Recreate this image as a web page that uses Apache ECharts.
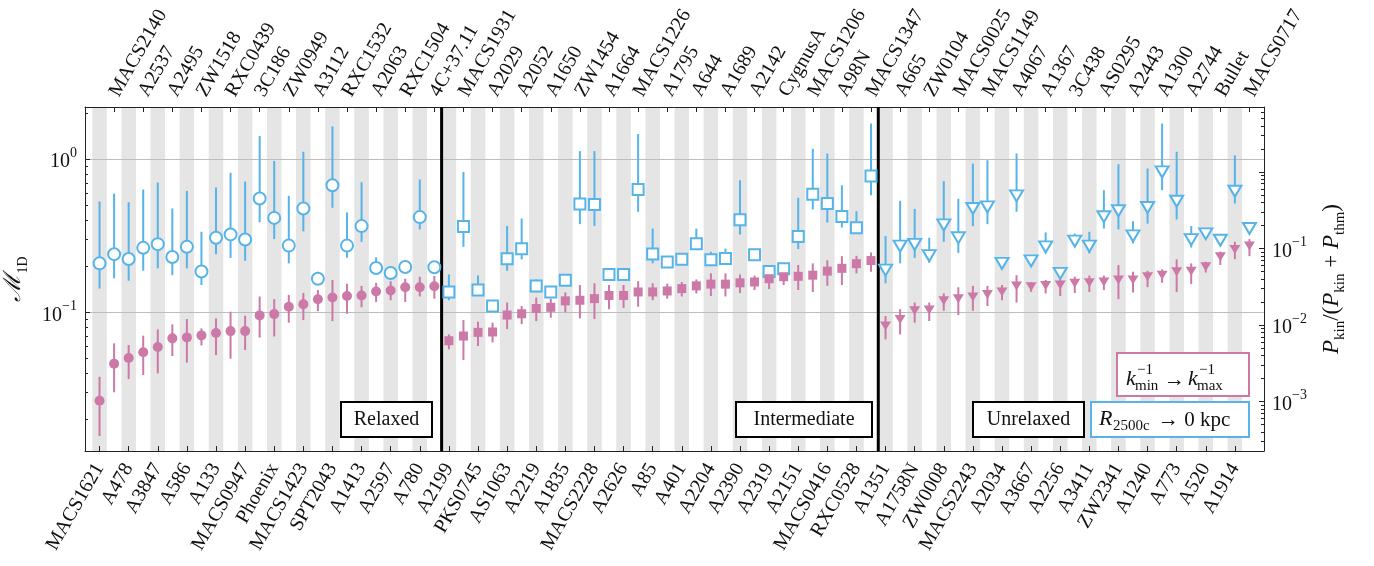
<!DOCTYPE html>
<html>
<head>
<meta charset="utf-8">
<script src="https://cdn.jsdelivr.net/npm/echarts@6.0.0/dist/echarts.min.js"></script>
<style>
  html, body { margin: 0; padding: 0; background: #fff; }
  #chart { width: 1374px; height: 566px; }
</style>
</head>
<body>
<div id="chart"></div>
<script>
// cluster names, left to right (bottom labels on even positions, top labels on odd)
const clusters = [
  'MACS1621', 'MACS2140', 'A478', 'A2537', 'A3847', 'A2495', 'A586', 'ZW1518', 'A133', 'RXC0439',
  'MACS0947', '3C186', 'Phoenix', 'ZW0949', 'MACS1423', 'A3112', 'SPT2043', 'RXC1532', 'A1413', 'A2063',
  'A2597', 'RXC1504', 'A780', '4C+37.11', 'A2199', 'MACS1931', 'PKS0745', 'A2029', 'AS1063', 'A2052',
  'A2219', 'A1650', 'A1835', 'ZW1454', 'MACS2228', 'A1664', 'A2626', 'MACS1226', 'A85', 'A1795',
  'A401', 'A644', 'A2204', 'A1689', 'A2390', 'A2142', 'A2319', 'CygnusA', 'A2151', 'MACS1206',
  'MACS0416', 'A98N', 'RXC0528', 'MACS1347', 'A1351', 'A665', 'A1758N', 'ZW0104', 'ZW0008', 'MACS0025',
  'MACS2243', 'MACS1149', 'A2034', 'A4067', 'A3667', 'A1367', 'A2256', '3C438', 'A3411', 'AS0295',
  'ZW2341', 'A2443', 'A1240', 'A1300', 'A773', 'A2744', 'A520', 'Bullet', 'A1914', 'MACS0717'
];

// dynamical state groups: number of clusters in each, in order
const groupNames = ['Relaxed', 'Intermediate', 'Unrelaxed'];
const groupSizes = [24, 30, 26];

// R2500c -> 0 kpc (blue, open markers)
const machR = [
  0.209, 0.240, 0.223, 0.264, 0.279, 0.230, 0.268, 0.185, 0.307, 0.323, 0.299, 0.554, 0.414, 0.273, 0.477, 0.166,
  0.676, 0.273, 0.366, 0.195, 0.181, 0.198, 0.419, 0.197,
  0.136, 0.364, 0.140, 0.110, 0.224, 0.260, 0.149, 0.136, 0.162, 0.511, 0.506, 0.177, 0.177, 0.634, 0.241,
  0.213, 0.222, 0.281, 0.221, 0.225, 0.402, 0.238, 0.185, 0.193, 0.313, 0.591, 0.514, 0.423, 0.357, 0.778,
  0.189, 0.271, 0.278, 0.235, 0.373, 0.307, 0.477, 0.489, 0.209, 0.577, 0.217, 0.268, 0.180, 0.292, 0.271,
  0.421, 0.461, 0.316, 0.484, 0.826, 0.532, 0.299, 0.326, 0.296, 0.618, 0.353
];
const machRLo = [
  0.143, 0.167, 0.161, 0.187, 0.194, 0.175, 0.194, 0.151, 0.240, 0.227, 0.217, 0.388, 0.301, 0.209, 0.338, 0.155,
  0.482, 0.227, 0.289, 0.180, 0.167, 0.184, 0.348, 0.184,
  0.120, 0.268, 0.130, 0.104, 0.187, 0.222, 0.138, 0.127, 0.151, 0.377, 0.367, 0.167, 0.167, 0.454, 0.209,
  0.201, 0.209, 0.255, 0.204, 0.209, 0.323, 0.219, 0.171, 0.180, 0.259, 0.470, 0.386, 0.358, 0.327, 0.582,
  0.155, 0.209, 0.227, 0.211, 0.289, 0.245, 0.366, 0.377, 0.209, 0.454, 0.217, 0.243, 0.180, 0.268, 0.243,
  0.353, 0.348, 0.282, 0.380, 0.628, 0.404, 0.265, 0.301, 0.271, 0.514, 0.327
];
const machRHi = [
  0.530, 0.597, 0.524, 0.634, 0.705, 0.477, 0.621, 0.336, 0.653, 0.815, 0.715, 1.42, 0.975, 0.577, 1.12, 0.184,
  1.64, 0.449, 0.708, 0.229, 0.194, 0.219, 0.737, 0.209,
  0.177, 0.826, 0.174, 0.110, 0.367, 0.410, 0.164, 0.143, 0.173, 1.13, 1.13, 0.189, 0.189, 1.46, 0.353,
  0.225, 0.237, 0.353, 0.249, 0.261, 0.730, 0.255, 0.199, 0.204, 0.560, 1.17, 1.09, 0.676, 0.458, 1.71,
  0.315, 0.535, 0.474, 0.307, 0.719, 0.551, 0.937, 0.985, 0.209, 1.09, 0.217, 0.333, 0.180, 0.327, 0.336,
  0.628, 0.928, 0.394, 0.869, 1.71, 1.12, 0.366, 0.344, 0.315, 1.06, 0.377
];

// k_min^-1 -> k_max^-1 (pink, filled markers)
const machK = [
  0.0265, 0.0463, 0.0504, 0.0549, 0.0594, 0.0677, 0.0687, 0.0708, 0.0733, 0.0755, 0.0755, 0.0956, 0.0975, 0.109,
  0.113, 0.122, 0.125, 0.128, 0.129, 0.137, 0.139, 0.146, 0.146, 0.148,
  0.0653, 0.0701, 0.0741, 0.0745, 0.0961, 0.098, 0.106, 0.108, 0.119, 0.120, 0.123, 0.129, 0.129, 0.136, 0.136,
  0.138, 0.143, 0.149, 0.153, 0.153, 0.156, 0.158, 0.166, 0.171, 0.172, 0.175, 0.186, 0.194, 0.208, 0.218,
  0.0815, 0.090, 0.1025, 0.1036, 0.119, 0.123, 0.126, 0.131, 0.136, 0.149, 0.147, 0.150, 0.151, 0.155, 0.156,
  0.158, 0.163, 0.163, 0.171, 0.175, 0.184, 0.186, 0.199, 0.231, 0.257, 0.271
];
const machKLo = [
  0.0156, 0.0301, 0.0367, 0.0390, 0.0400, 0.0519, 0.0470, 0.0609, 0.0527, 0.0499, 0.0568, 0.0684, 0.0697, 0.0857,
  0.0891, 0.102, 0.0878, 0.098, 0.108, 0.117, 0.120, 0.117, 0.127, 0.123,
  0.0574, 0.0489, 0.0603, 0.0637, 0.0778, 0.0839, 0.0878, 0.0923, 0.100, 0.0914, 0.0905, 0.105, 0.107, 0.109, 0.120,
  0.123, 0.127, 0.133, 0.128, 0.127, 0.134, 0.140, 0.142, 0.151, 0.140, 0.136, 0.149, 0.151, 0.180, 0.184,
  0.0667, 0.0719, 0.0857, 0.0878, 0.1025, 0.0961, 0.1025, 0.110, 0.120, 0.116, 0.136, 0.133, 0.128, 0.134, 0.136,
  0.140, 0.122, 0.135, 0.146, 0.156, 0.136, 0.153, 0.182, 0.204, 0.223, 0.233
];
const machKHi = [
  0.0380, 0.0628, 0.0612, 0.0705, 0.0775, 0.0835, 0.0905, 0.0786, 0.0914, 0.101, 0.0951, 0.127, 0.122, 0.130,
  0.134, 0.140, 0.163, 0.154, 0.149, 0.156, 0.160, 0.166, 0.171, 0.173,
  0.0719, 0.0891, 0.0869, 0.0857, 0.116, 0.110, 0.125, 0.123, 0.135, 0.151, 0.155, 0.151, 0.151, 0.160, 0.155,
  0.154, 0.158, 0.164, 0.180, 0.180, 0.177, 0.174, 0.185, 0.187, 0.204, 0.209, 0.219, 0.233, 0.234, 0.246,
  0.0947, 0.105, 0.116, 0.116, 0.133, 0.146, 0.149, 0.149, 0.151, 0.175, 0.158, 0.163, 0.171, 0.171, 0.174,
  0.174, 0.204, 0.184, 0.187, 0.191, 0.222, 0.209, 0.214, 0.249, 0.289, 0.301
];

// axis ranges (left: M_1D, right: P_kin / (P_kin + P_thm))
const leftRange = [0.01245, 2.193];
const rightRange = [2.265e-4, 7.03];
const rightLabelPowers = [-1, -2, -3];

const FONT = '"Liberation Serif", "DejaVu Serif", serif';
const BLUE = '#56B4E9';
const PINK = '#CC79A7';
const TRI_DOWN = 'path://M0,0L20,0L10,17.3Z';

const chart = echarts.init(document.getElementById('chart'));

const n = clusters.length;
const cats = [''].concat(clusters, ['']);   // one empty slot on each side as padding
const groupOf = [];
groupSizes.forEach((s, g) => { for (let k = 0; k < s; k++) groupOf.push(g); });

const isBottom = i => i >= 1 && i <= n && (i - 1) % 2 === 0;
const isTop = i => i >= 1 && i <= n && (i - 1) % 2 === 1;

function powLabel(v, allowed) {
  const l = Math.log10(v);
  const r = Math.round(l);
  if (Math.abs(l - r) > 1e-6) return '';
  if (allowed && allowed.indexOf(r) < 0) return '';
  return '{b|10}{s|' + (r < 0 ? '\u2212' + (-r) : r) + '}';
}
const powRich = {
  b: { fontFamily: FONT, fontSize: 20, color: '#111', lineHeight: 26, verticalAlign: 'bottom' },
  s: { fontFamily: FONT, fontSize: 14, color: '#111', lineHeight: 26, verticalAlign: 'top', padding: [0, 0, 10, 0] }
};

function errBars(lo, hi, color) {
  return {
    type: 'custom',
    silent: true,
    z: 3,
    data: clusters.map((_, i) => [i + 1, lo[i], hi[i]]),
    encode: { x: 0, y: [1, 2] },
    renderItem(params, api) {
      const a = api.coord([api.value(0), api.value(1)]);
      const b = api.coord([api.value(0), api.value(2)]);
      return {
        type: 'line',
        shape: { x1: a[0], y1: a[1], x2: b[0], y2: b[1] },
        style: { stroke: color, lineWidth: 2 }
      };
    }
  };
}

const blueSym = ['circle', 'rect', TRI_DOWN];
const blueSize = [12, 11, [13, 11]];
const pinkSym = ['circle', 'rect', TRI_DOWN];
const pinkSize = [10, 9, [11, 9]];

// boundaries between the groups
const bounds = [];
let acc = 0;
groupSizes.slice(0, -1).forEach(s => { acc += s; bounds.push(acc); });

function txt(x, y, text, size, extra) {
  return {
    type: 'text', x: x, y: y, z: 20,
    style: Object.assign({
      text: text, fontFamily: FONT, fontSize: size, fill: '#111',
      textAlign: 'left', textVerticalAlign: 'middle'
    }, extra || {})
  };
}
function box(x, y, w, h, color) {
  return {
    type: 'rect', z: 19,
    shape: { x: x, y: y, width: w, height: h },
    style: { fill: '#fff', stroke: color, lineWidth: 2 }
  };
}

const graphic = [
  box(341, 402, 91, 35, '#000'),
  txt(386.5, 420, groupNames[0], 20, { textAlign: 'center' }),
  box(736, 402, 136, 35, '#000'),
  txt(804, 420, groupNames[1], 20, { textAlign: 'center' }),
  box(973, 402, 111, 35, '#000'),
  txt(1028.5, 420, groupNames[2], 20, { textAlign: 'center' }),
  box(1091, 402, 158, 35, BLUE),
  txt(1099, 419, 'R', 22, { fontStyle: 'italic' }),
  txt(1113, 426, '2500c', 15),
  txt(1158, 420, '\u2192 0 kpc', 21),
  box(1117, 353, 132, 43, PINK),
  txt(1126, 379, 'k', 22, { fontStyle: 'italic' }),
  txt(1137, 370, '\u22121', 15),
  txt(1135, 386, 'min', 15),
  txt(1164, 380, '\u2192', 21),
  txt(1188, 379, 'k', 22, { fontStyle: 'italic' }),
  txt(1199, 370, '\u22121', 15),
  txt(1197, 386, 'max', 15)
];

const xBase = {
  type: 'category',
  data: cats,
  boundaryGap: false,
  axisLine: { show: true, lineStyle: { color: '#222', width: 1 } },
  splitLine: { show: false }
};

const option = {
  animation: false,
  backgroundColor: '#fff',
  grid: { left: 85, right: 110, top: 107, bottom: 115, containLabel: false, outerBoundsMode: 'none' },
  xAxis: [
    Object.assign({}, xBase, {
      position: 'bottom',
      axisTick: { show: true, inside: true, length: 5, interval: isBottom, lineStyle: { color: '#222' } },
      axisLabel: { interval: isBottom, rotate: 60, margin: 14, fontFamily: FONT, fontSize: 20, color: '#111' }
    }),
    Object.assign({}, xBase, {
      position: 'top',
      axisTick: { show: true, inside: true, length: 5, interval: isTop, lineStyle: { color: '#222' } },
      axisLabel: { interval: isTop, rotate: -60, margin: 12, fontFamily: FONT, fontSize: 20, color: '#111' }
    })
  ],
  yAxis: [
    {
      type: 'log', logBase: 10, min: leftRange[0], max: leftRange[1], position: 'left',
      axisLine: { show: true, lineStyle: { color: '#222' } },
      axisTick: { show: true, inside: true, length: 5, lineStyle: { color: '#222' } },
      minorTick: { show: true, splitNumber: 9, length: 3, lineStyle: { color: '#222' } },
      splitLine: { show: true, lineStyle: { color: '#bdbdbd', width: 1 } },
      axisLabel: { formatter: v => powLabel(v), rich: powRich, margin: 8 },
      name: '{m|\u2133}{s|1D}',
      nameLocation: 'middle', nameRotate: 90, nameGap: 55,
      nameTextStyle: {
        rich: {
          m: { fontFamily: FONT, fontSize: 24, fontStyle: 'italic', color: '#111', lineHeight: 28, verticalAlign: 'top' },
          s: { fontFamily: FONT, fontSize: 14, color: '#111', lineHeight: 28, verticalAlign: 'bottom' }
        }
      }
    },
    {
      type: 'log', logBase: 10, min: rightRange[0], max: rightRange[1], position: 'right',
      axisLine: { show: true, lineStyle: { color: '#222' } },
      axisTick: { show: true, inside: true, length: 5, lineStyle: { color: '#222' } },
      minorTick: { show: true, splitNumber: 9, length: 3, lineStyle: { color: '#222' } },
      splitLine: { show: false },
      axisLabel: { formatter: v => powLabel(v, rightLabelPowers), rich: powRich, margin: 8 },
      name: '{i|P}{s|kin}{r|/(}{i|P}{s|kin}{r| + }{i|P}{s|thm}{r|)}',
      nameLocation: 'middle', nameRotate: 90, nameGap: 56,
      nameTextStyle: {
        rich: {
          i: { fontFamily: FONT, fontSize: 23, fontStyle: 'italic', color: '#111', lineHeight: 28, verticalAlign: 'top' },
          r: { fontFamily: FONT, fontSize: 23, color: '#111', lineHeight: 28, verticalAlign: 'top' },
          s: { fontFamily: FONT, fontSize: 15, color: '#111', lineHeight: 28, verticalAlign: 'bottom' }
        }
      }
    }
  ],
  graphic: graphic,
  series: [
    // alternating grey stripes
    {
      type: 'custom', silent: true, z: -1,
      data: clusters.map((_, i) => [i + 1, 1]).filter((_, i) => i % 2 === 0),
      renderItem(params, api) {
        const c = api.coord([api.value(0), 1])[0];
        const w = api.coord([api.value(0) + 1, 1])[0] - c;
        const cs = params.coordSys;
        return {
          type: 'rect',
          shape: { x: c - w / 2, y: cs.y, width: w, height: cs.height },
          style: { fill: '#e5e5e5' }
        };
      }
    },
    // group separators
    {
      type: 'custom', silent: true, z: 4,
      data: bounds.map(b => [b, 1]),
      renderItem(params, api) {
        const x = (api.coord([api.value(0), 1])[0] + api.coord([api.value(0) + 1, 1])[0]) / 2;
        const cs = params.coordSys;
        return {
          type: 'line',
          shape: { x1: x, y1: cs.y, x2: x, y2: cs.y + cs.height },
          style: { stroke: '#000', lineWidth: 3 }
        };
      }
    },
    errBars(machRLo, machRHi, BLUE),
    errBars(machKLo, machKHi, PINK),
    {
      type: 'scatter', z: 5,
      data: clusters.map((_, i) => [i + 1, machR[i]]),
      symbol: (v, p) => blueSym[groupOf[p.dataIndex]],
      symbolSize: (v, p) => blueSize[groupOf[p.dataIndex]],
      itemStyle: { color: '#fff', borderColor: BLUE, borderWidth: 2, opacity: 1 }
    },
    {
      type: 'scatter', z: 5,
      data: clusters.map((_, i) => [i + 1, machK[i]]),
      symbol: (v, p) => pinkSym[groupOf[p.dataIndex]],
      symbolSize: (v, p) => pinkSize[groupOf[p.dataIndex]],
      itemStyle: { color: PINK, opacity: 1 }
    }
  ]
};

chart.setOption(option);
</script>
</body>
</html>
